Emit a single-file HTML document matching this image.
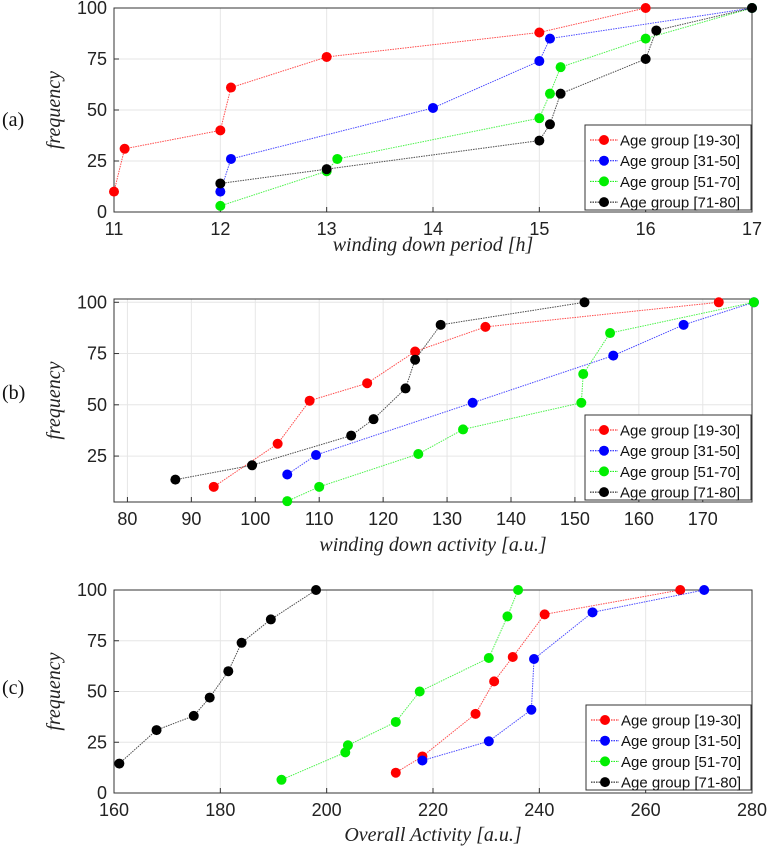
<!DOCTYPE html>
<html><head><meta charset="utf-8"><style>
html,body{margin:0;padding:0;background:#fff;}
svg{display:block;}
</style></head><body>
<svg id="fig" width="768" height="851" xmlns="http://www.w3.org/2000/svg" font-family="Liberation Sans, sans-serif"></svg>
<script>
const seriesNames = ["Age group [19-30]","Age group [31-50]","Age group [51-70]","Age group [71-80]"];
const seriesColors = ["#ff0000","#0000ff","#00ee00","#000000"];
// Panel a
const aRedX=[11,11.1,12,12.1,13,15,16], aRedY=[10,31,40,61,76,88,100];
const aBlueX=[12,12.1,14,15,15.1,17], aBlueY=[10,26,51,74,85,100];
const aGreenX=[12,13,13.1,15,15.1,15.2,16,17], aGreenY=[3,20,26,46,58,71,85,100];
const aBlackX=[12,13,15,15.1,15.2,16,16.1,17], aBlackY=[14,21,35,43,58,75,89,100];
const aXTicks=[11,12,13,14,15,16,17], aYTicks=[0,25,50,75,100];
// Panel b
const bRedX=[93.5,103.5,108.5,117.5,125,136,172.5], bRedY=[10,31,52,60.5,76,88,100];
const bBlueX=[105,109.5,134,156,167,178], bBlueY=[16,25.5,51,74,89,100];
const bGreenX=[105,110,125.5,132.5,151,151.3,155.5,178], bGreenY=[3,10,26,38,51,65,85,100];
const bBlackX=[87.5,99.5,115,118.5,123.5,125,129,151.5], bBlackY=[13.5,20.5,35,43,58,72,89,100];
const bXTicks=[80,90,100,110,120,130,140,150,160,170], bYTicks=[25,50,75,100];
// Panel c
const cRedX=[213,218,228,231.5,235,241,266.5], cRedY=[10,18,39,55,67,88,100];
const cBlueX=[218,230.5,238.5,239,250,271], cBlueY=[16,25.5,41,66,89,100];
const cGreenX=[191.5,203.5,204,213,217.5,230.5,234,236], cGreenY=[6.5,20,23.5,35,50,66.5,87,100];
const cBlackX=[161,168,175,178,181.5,184,189.5,198], cBlackY=[14.5,31,38,47,60,74,85.5,100];
const cXTicks=[160,180,200,220,240,260,280], cYTicks=[0,25,50,75,100];

const NS="http://www.w3.org/2000/svg";
const svg=document.getElementById('fig');
function mk(tag,attrs,parent){const e=document.createElementNS(NS,tag);for(const k in attrs)e.setAttribute(k,attrs[k]);(parent||svg).appendChild(e);return e;}

function panel(cfg){
  const g=mk('g',{});
  
  
  const {L,R,T,B,xmin,xmax,ymin,ymax}=cfg;
  const sx=v=>L+(v-xmin)/(xmax-xmin)*(R-L);
  const sy=v=>B-(v-ymin)/(ymax-ymin)*(B-T);
  mk('rect',{x:L,y:T,width:R-L,height:B-T,fill:'#fff'},g);
  cfg.xt.forEach(t=>{
    const x=sx(t);
    mk('line',{x1:x,x2:x,y1:T,y2:B,stroke:'#e6e6e6','stroke-width':1},g);
    mk('line',{x1:x,x2:x,y1:B,y2:B-5,stroke:'#333'},g);
    const tx=mk('text',{x:x,y:B+23,'text-anchor':'middle','font-size':18,fill:'#222'},g);
    tx.textContent=t;
    
    
  });
  cfg.yt.forEach(t=>{
    const y=sy(t);
    mk('line',{x1:L,x2:R,y1:y,y2:y,stroke:'#e6e6e6','stroke-width':1},g);
    mk('line',{x1:L,x2:L+5,y1:y,y2:y,stroke:'#333'},g);
    const tx=mk('text',{x:L-7,y:y+6,'text-anchor':'end','font-size':18,fill:'#222'},g);
    tx.textContent=t;
    
    
  });
  mk('rect',{x:L,y:T,width:R-L,height:B-T,fill:'none',stroke:'#333','stroke-width':1},g);
  cfg.series.forEach((s,i)=>{
    const pts=s[0].map((v,j)=>sx(v)+','+sy(s[1][j])).join(' ');
    const pl=mk('polyline',{points:pts,fill:'none',stroke:seriesColors[i],'stroke-width':1,'stroke-dasharray':'1.5,1','stroke-opacity':0.7},g);
    
    
    s[0].forEach((v,j)=>{
      const c=mk('circle',{cx:sx(v),cy:sy(s[1][j]),r:5,fill:seriesColors[i]},g);
      
      
    });
  });
  // legend
  const lg=mk('g',{},g);
  
  
  mk('rect',{x:cfg.lx,y:cfg.ly,width:R-cfg.lx-1,height:85,fill:'#fff',stroke:'#333'},lg);
  seriesNames.forEach((n,i)=>{
    const yy=cfg.ly+15+i*20.7;
    mk('line',{x1:cfg.lx+5,x2:cfg.lx+33,y1:yy,y2:yy,stroke:seriesColors[i],'stroke-dasharray':'1.5,1'},lg);
    mk('circle',{cx:cfg.lx+19,cy:yy,r:5,fill:seriesColors[i]},lg);
    const t=mk('text',{x:cfg.lx+35,y:yy+5.5,'font-size':15,fill:'#111'},lg);
    t.textContent=n;
    
    
  });
  const xl=mk('text',{x:(L+R)/2,y:cfg.xly,'text-anchor':'middle','font-size':20,'font-style':'italic','font-family':'Liberation Serif, serif',fill:'#222'},g);
  xl.textContent=cfg.xlabel;
  
  
  const cy=(T+B)/2;
  const yl=mk('text',{x:60,y:cy,'text-anchor':'middle','font-size':20,'font-style':'italic','font-family':'Liberation Serif, serif',fill:'#222',transform:'rotate(-90 60 '+cy+')'},g);
  yl.textContent='frequency';
  
  
  const pl=mk('text',{x:2,y:cfg.ply,'font-size':20,'font-family':'Liberation Serif, serif',fill:'#111'},g);
  pl.textContent=cfg.plabel;
  
  
}

panel({id:'a',L:114,R:752,T:8,B:212,xmin:11,xmax:17,ymin:0,ymax:100,xt:aXTicks,yt:aYTicks,
  series:[[aRedX,aRedY],[aBlueX,aBlueY],[aGreenX,aGreenY],[aBlackX,aBlackY]],
  lx:585,ly:125,xlabel:'winding down period [h]',xly:251,plabel:'(a)',ply:126});
panel({id:'b',L:114,R:752,T:299,B:502,xmin:77.9,xmax:177.7,ymin:2.6,ymax:101.6,xt:bXTicks,yt:bYTicks,
  series:[[bRedX,bRedY],[bBlueX,bBlueY],[bGreenX,bGreenY],[bBlackX,bBlackY]],
  lx:585,ly:415,xlabel:'winding down activity [a.u.]',xly:551,plabel:'(b)',ply:399});
panel({id:'c',L:114,R:752,T:590,B:793,xmin:160,xmax:280,ymin:0,ymax:100,xt:cXTicks,yt:cYTicks,
  series:[[cRedX,cRedY],[cBlueX,cBlueY],[cGreenX,cGreenY],[cBlackX,cBlackY]],
  lx:586,ly:705,xlabel:'Overall Activity [a.u.]',xly:841,plabel:'(c)',ply:694});
</script>
</body></html>
